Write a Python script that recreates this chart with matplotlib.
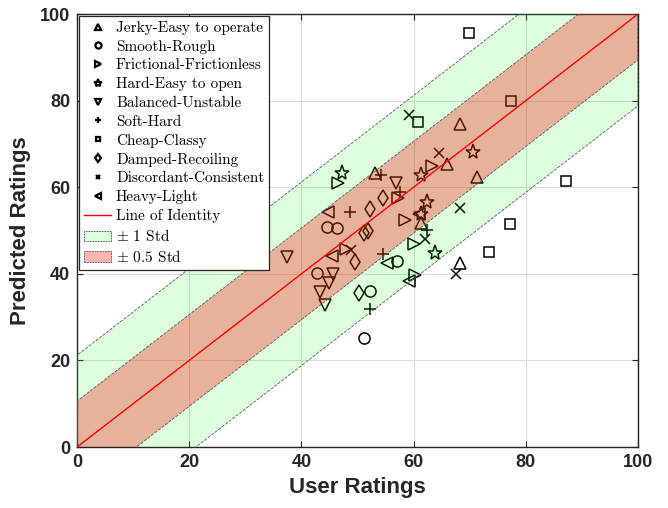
import matplotlib
matplotlib.use("Agg")
import matplotlib.pyplot as plt
from matplotlib.lines import Line2D
import numpy as np

plt.rcParams['mathtext.fontset'] = 'cm'

# values, one pair of lists per attribute pair
jerky_x = [53.1, 66.0, 68.3, 71.3, 68.3, 61.3]
jerky_y = [63.2, 65.4, 74.6, 62.4, 42.4, 51.8]

smooth_x = [44.5, 46.3, 42.7, 52.3, 57.0, 51.2]
smooth_y = [50.7, 50.5, 40.1, 36.0, 43.0, 25.1]

friction_x = [46.6, 63.2, 57.3, 58.5, 60.1, 47.9, 60.2]
friction_y = [60.9, 64.9, 57.4, 52.4, 46.9, 45.7, 39.7]

hard_open_x = [47.2, 61.4, 70.5, 62.3, 61.3, 63.8]
hard_open_y = [63.3, 62.8, 68.2, 56.7, 53.8, 44.7]

balanced_x = [37.5, 56.9, 45.7, 45.0, 43.4, 44.2]
balanced_y = [43.8, 61.0, 40.0, 37.9, 35.9, 32.8]

soft_x = [54.1, 48.7, 57.5, 62.3, 54.6, 52.3]
soft_y = [62.8, 54.3, 59.0, 50.1, 44.6, 31.9]

cheap_x = [69.8, 77.3, 60.8, 87.1, 77.2, 73.5]
cheap_y = [95.7, 80.0, 75.1, 61.4, 51.5, 45.1]

damped_x = [52.3, 54.6, 51.2, 51.8, 49.6, 50.3]
damped_y = [55.0, 57.4, 49.5, 49.9, 42.8, 35.6]

discord_x = [59.2, 64.5, 68.3, 62.0, 67.6, 48.8]
discord_y = [76.7, 67.8, 55.3, 48.0, 40.0, 45.6]

heavy_x = [44.8, 45.4, 55.2, 59.1, 61.0]
heavy_y = [54.3, 44.1, 42.4, 38.4, 53.9]

labels = ["Jerky-Easy to operate", "Smooth-Rough", "Frictional-Frictionless",
          "Hard-Easy to open", "Balanced-Unstable", "Soft-Hard", "Cheap-Classy",
          "Damped-Recoiling", "Discordant-Consistent", "Heavy-Light"]
markers = ["^", "o", ">", "*", "v", "+", "s", "d", "x", "<"]
xs = [jerky_x, smooth_x, friction_x, hard_open_x, balanced_x, soft_x, cheap_x,
      damped_x, discord_x, heavy_x]
ys = [jerky_y, smooth_y, friction_y, hard_open_y, balanced_y, soft_y, cheap_y,
      damped_y, discord_y, heavy_y]
sizes = {"s": 6.5, "*": 11, "+": 8, "x": 6.5, "o": 8, "d": 8}

std = 21.2

fig = plt.figure(figsize=(6.68, 5.08), dpi=100)
ax = fig.add_axes([0.1153, 0.12, 0.8398, 0.8524])

handles = []
for x, y, m, lab in zip(xs, ys, markers, labels):
    ms = sizes.get(m, 9)
    ax.plot(x, y, linestyle="none", marker=m, markersize=ms, markerfacecolor="none",
            markeredgecolor="black", markeredgewidth=1.1, zorder=2)
    handles.append(Line2D([], [], linestyle="none", marker=m, markersize=ms * 0.55,
                          markerfacecolor="none", markeredgecolor="black",
                          markeredgewidth=1.6, label=lab))

# bands drawn over the markers, that is what tints them in the original
line_x = np.array([0, 100])
g = ax.fill_between(line_x, line_x - std, line_x + std, facecolor=(0, 1, 0, 0.13),
                    edgecolor="0.35", linestyle="--", linewidth=0.6, zorder=3)
r = ax.fill_between(line_x, line_x - std / 2, line_x + std / 2, facecolor=(1, 0, 0, 0.3),
                    edgecolor="0.35", linestyle="--", linewidth=0.6, zorder=4)
ident, = ax.plot(line_x, line_x, color="red", linewidth=1.0, zorder=5)

handles.append(Line2D([], [], color="red", linewidth=1.0, label="Line of Identity"))
g.set_label(r"$\pm$ 1 Std")
r.set_label(r"$\pm$ 0.5 Std")
handles += [g, r]

ax.set_xlim(0, 100)
ax.set_ylim(0, 100)
ax.set_xticks(np.arange(0, 101, 20))
ax.set_yticks(np.arange(0, 101, 20))
ax.grid(True, color="#dcdcdc", linewidth=0.8)
ax.set_axisbelow(True)
ax.tick_params(direction="in", length=4, width=0.8, top=True, right=True,
               colors="#262626", labelsize=13, pad=5)
for lab in ax.get_xticklabels() + ax.get_yticklabels():
    lab.set_fontweight("bold")
    lab.set_family(["Liberation Sans Narrow", "Liberation Sans"])
for sp in ax.spines.values():
    sp.set_color("#262626")
    sp.set_linewidth(1.0)

ax.set_xlabel("User Ratings", fontsize=16, fontweight="bold", color="#262626",
              family=["Liberation Sans Narrow", "Liberation Sans"], labelpad=4)
ax.set_ylabel("Predicted Ratings", fontsize=16, fontweight="bold", color="#262626",
              family=["Liberation Sans Narrow", "Liberation Sans"], labelpad=6)

leg = ax.legend(handles=handles, loc="upper left", bbox_to_anchor=(0, 1),
                borderaxespad=0.15, prop={"family": "cmr10", "size": 11},
                handlelength=1.8, handletextpad=0.3, borderpad=0.3, labelspacing=0.32,
                fancybox=False, framealpha=1, edgecolor="#262626")
leg.get_frame().set_linewidth(0.9)
leg.set_zorder(10)

fig.savefig("out.png", dpi=100)
